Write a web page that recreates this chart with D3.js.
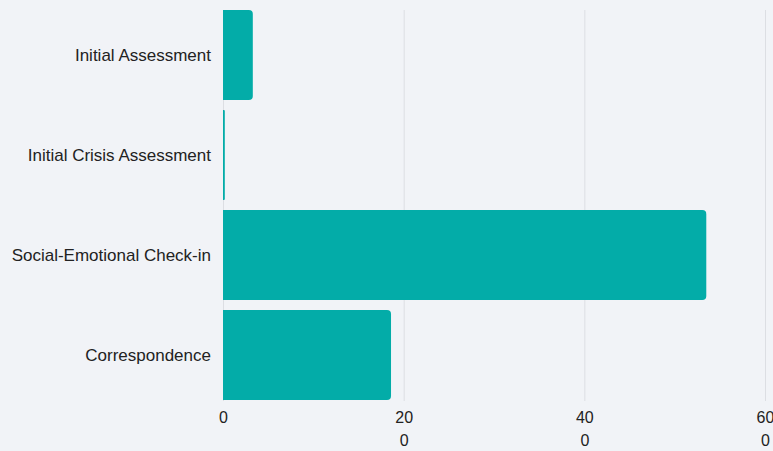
<!DOCTYPE html>
<html>
<head>
<meta charset="utf-8">
<script src="https://cdn.jsdelivr.net/npm/d3@7"></script>
<style>
  html, body { margin: 0; padding: 0; background: #f1f3f7; }
  svg { display: block; font-family: "Liberation Sans", Arial, sans-serif; }
</style>
</head>
<body>
<svg id="chart" width="773" height="451"></svg>
<script>
// Session counts by activity type
const categories = ["Initial Assessment", "Initial Crisis Assessment", "Social-Emotional Check-in", "Correspondence"];
const values = [33, 2, 535, 186];
const tickValues = [0, 200, 400, 600];

const width = 773, height = 451;
const margin = { top: 10, right: 8, bottom: 51, left: 223 };
const barColor = "#03aca8";
const gridColor = "#dcdee3";
const textColor = "#222222";

const svg = d3.select("#chart");

const x = d3.scaleLinear()
  .domain([0, 600])
  .range([margin.left, 765]);

const y = d3.scaleBand()
  .domain(categories)
  .range([margin.top, height - margin.bottom])
  .paddingInner(0.1)
  .paddingOuter(0);

// vertical gridlines
svg.append("g")
  .selectAll("line")
  .data(tickValues)
  .join("line")
  .attr("x1", d => x(d) + 0.5)
  .attr("x2", d => x(d) + 0.5)
  .attr("y1", margin.top)
  .attr("y2", height - margin.bottom + 1)
  .attr("stroke", gridColor)
  .attr("stroke-width", 1);

// bars with rounded right end only
const r = 4;
function barPath(x0, x1, y0, h) {
  const w = x1 - x0;
  const rr = Math.min(r, w / 2, h / 2);
  return `M${x0},${y0}H${x1 - rr}Q${x1},${y0} ${x1},${y0 + rr}` +
         `V${y0 + h - rr}Q${x1},${y0 + h} ${x1 - rr},${y0 + h}H${x0}Z`;
}

svg.append("g")
  .selectAll("path")
  .data(categories.map((c, i) => ({ c, v: values[i] })))
  .join("path")
  .attr("d", d => barPath(x(0), x(d.v), y(d.c), y.bandwidth()))
  .attr("fill", barColor);

// category axis labels
svg.append("g")
  .selectAll("text")
  .data(categories)
  .join("text")
  .attr("x", margin.left - 12)
  .attr("y", d => y(d) + y.bandwidth() / 2)
  .attr("dy", "0.35em")
  .attr("text-anchor", "end")
  .attr("fill", textColor)
  .style("font-size", "17px")
  .text(d => d);

// value axis labels, wrapped to a narrow column
const xAxis = d3.axisBottom(x).tickValues(tickValues).tickSize(0).tickPadding(0);
const axisG = svg.append("g")
  .attr("transform", `translate(0,${height - margin.bottom})`)
  .call(xAxis);
axisG.select(".domain").remove();
axisG.selectAll("text")
  .attr("fill", textColor)
  .style("font-size", "16px")
  .style("font-family", "'Liberation Sans', Arial, sans-serif")
  .attr("y", 0)
  .attr("dy", null)
  .each(function() {
    const t = d3.select(this);
    const label = t.text();
    const maxW = 22;
    const lines = [];
    let cur = "";
    t.text("");
    const probe = t.append("tspan");
    for (const ch of label) {
      probe.text(cur + ch);
      if (cur && probe.node().getComputedTextLength() > maxW) {
        lines.push(cur);
        cur = ch;
      } else {
        cur += ch;
      }
    }
    lines.push(cur);
    probe.remove();
    lines.forEach((ln, i) => {
      t.append("tspan")
        .attr("x", 0)
        .attr("y", 23 + i * 23)
        .text(ln);
    });
  });
</script>
</body>
</html>
